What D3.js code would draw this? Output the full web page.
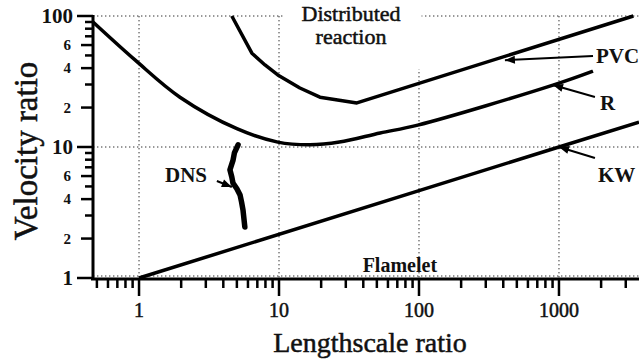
<!DOCTYPE html>
<html>
<head>
<meta charset="utf-8">
<script src="https://cdn.jsdelivr.net/npm/d3@7"></script>
<style>
  html, body { margin: 0; padding: 0; background: #fff; }
  svg { display: block; }
  text { font-family: "Liberation Serif", "Times New Roman", serif; fill: #111; }
  text.heavy { stroke: #111; stroke-width: 0.5; }
</style>
</head>
<body>
<svg id="chart" width="639" height="360"></svg>
<script>
// Log-log regime diagram: velocity ratio vs lengthscale ratio

// axis ticks
const xMajorTicks = [1, 10, 100, 1000];
const xTickLabels = ["1", "10", "100", "1000"];
const yMajorTicks = [1, 10, 100];
const yMajorLabels = ["1", "10", "100"];
const yLabeledMinor = [2, 4, 6, 20, 40, 60];
const yMinorLabels = ["2", "4", "6", "2", "4", "6"];

// boundary curves
const pvcX = [4.6, 6.4, 7.94, 9.8, 14.1, 19.6, 36, 3400];
const pvcY = [100, 52, 42.3, 35.5, 28.2, 24, 21.7, 100];

const rX = [0.469, 0.94, 1.96, 5.0, 9.8, 16.6, 27, 52.8, 98, 906, 1750];
const rY = [90, 46, 24, 13.8, 10.9, 10.4, 10.9, 12.8, 14.7, 29.7, 38];

const kwX = [1, 1000, 3730];
const kwY = [1, 10, 15.5];

const dnsX = [5.1, 4.8, 4.69, 4.46, 4.6, 4.69, 5.0, 5.27, 5.4, 5.53, 5.7];
const dnsY = [10.4, 9.0, 7.9, 6.7, 5.9, 5.3, 4.8, 4.3, 3.8, 3.3, 2.45];

// curve labels and their leader arrows (data coordinates)
const labelNames = ["PVC", "R", "KW", "DNS"];
const labelX = [1837, 1963, 1900, 3.06];
const labelY = [43.8, 19.2, 5.4, 5.4];
const labelAnchor = ["start", "start", "start", "end"];
const arrowFromX = [1750, 1807, 1807, 3.6];
const arrowFromY = [49.5, 24.1, 8.24, 5.5];
const arrowToX = [411, 906, 1000, 4.6];
const arrowToY = [46, 29.7, 10, 4.95];

const svg = d3.select("#chart");
const W = 639, H = 360;

const x = d3.scaleLog().domain([0.469, 3730]).range([93, 639]);
const y = d3.scaleLog().domain([1, 100]).range([278, 16]);

// dotted grid
const grid = svg.append("g").attr("stroke", "#333").attr("stroke-width", 1)
  .attr("stroke-dasharray", "1.4,2.6").attr("fill", "none");
xMajorTicks.forEach(v => {
  grid.append("line").attr("x1", x(v)).attr("x2", x(v)).attr("y1", y(100)).attr("y2", y(1));
});
[10, 100].forEach(v => {
  grid.append("line").attr("x1", x.range()[0]).attr("x2", W).attr("y1", y(v)).attr("y2", y(v));
});
grid.append("line").attr("x1", x.range()[0]).attr("x2", W).attr("y1", y(1) - 2).attr("y2", y(1) - 2);

// "Distributed reaction" label with a white backing
const distG = svg.append("g");
const distMask = distG.append("rect").attr("fill", "#fff");
const dist = distG.append("text").attr("class", "heavy").attr("text-anchor", "middle").attr("font-size", 22);
dist.append("tspan").attr("x", x(32.7)).attr("y", y(91)).text("Distributed");
dist.append("tspan").attr("x", x(32.7)).attr("y", y(61)).text("reaction");
const bb = dist.node().getBBox();
distMask.attr("x", bb.x - 17).attr("y", 0).attr("width", bb.width + 38).attr("height", bb.y + bb.height + 20);

// curves
const line = d3.line().x(d => x(d[0])).y(d => y(d[1]));
const smooth = d3.line().x(d => x(d[0])).y(d => y(d[1])).curve(d3.curveCatmullRom.alpha(0.5));
const zip = (a, b) => a.map((v, i) => [v, b[i]]);

svg.append("path").datum(zip(pvcX, pvcY)).attr("d", line)
  .attr("fill", "none").attr("stroke", "#000").attr("stroke-width", 3.5)
  .attr("stroke-linejoin", "round");
svg.append("path").datum(zip(rX, rY)).attr("d", smooth)
  .attr("fill", "none").attr("stroke", "#000").attr("stroke-width", 3.5);
svg.append("path").datum(zip(kwX, kwY)).attr("d", line)
  .attr("fill", "none").attr("stroke", "#000").attr("stroke-width", 3.5);
svg.append("path").datum(zip(dnsX, dnsY)).attr("d", line)
  .attr("fill", "none").attr("stroke", "#000").attr("stroke-width", 5.5)
  .attr("stroke-linecap", "round").attr("stroke-linejoin", "round");

// leader arrows and labels
labelNames.forEach((name, i) => {
  const x1 = x(arrowFromX[i]), y1 = y(arrowFromY[i]);
  const x2 = x(arrowToX[i]), y2 = y(arrowToY[i]);
  svg.append("line").attr("x1", x1).attr("y1", y1).attr("x2", x2).attr("y2", y2)
    .attr("stroke", "#000").attr("stroke-width", 2);
  const ang = Math.atan2(y2 - y1, x2 - x1);
  const L = 10, Wd = 4;
  const bx = x2 - L * Math.cos(ang), by = y2 - L * Math.sin(ang);
  const px = -Math.sin(ang) * Wd, py = Math.cos(ang) * Wd;
  svg.append("path")
    .attr("d", `M${x2},${y2}L${bx + px},${by + py}L${bx - px},${by - py}Z`)
    .attr("fill", "#000");
  svg.append("text").attr("x", x(labelX[i])).attr("y", y(labelY[i]))
    .attr("text-anchor", labelAnchor[i]).attr("font-size", 21).attr("font-weight", "bold")
    .text(name);
});

svg.append("text").attr("x", x(73)).attr("y", y(1.11)).attr("text-anchor", "middle")
  .attr("font-size", 20).attr("font-weight", "bold").text("Flamelet");

// axes
const axes = svg.append("g").attr("stroke", "#000");
axes.append("line").attr("x1", x.range()[0]).attr("x2", x.range()[0])
  .attr("y1", y(100) - 1).attr("y2", y(1) + 2).attr("stroke-width", 3);
axes.append("line").attr("x1", x.range()[0] - 2).attr("x2", W)
  .attr("y1", y(1) + 1).attr("y2", y(1) + 1).attr("stroke-width", 3);

// y ticks
const yAllTicks = y.ticks();
yAllTicks.forEach(v => {
  const major = yMajorTicks.includes(v);
  const lab = yLabeledMinor.some(m => Math.abs(m - v) < 1e-9);
  const len = major ? 16 : (lab ? 12 : 8);
  axes.append("line").attr("x1", x.range()[0]).attr("x2", x.range()[0] - len)
    .attr("y1", y(v)).attr("y2", y(v)).attr("stroke-width", 2.5);
});
yMajorTicks.forEach((v, i) => {
  svg.append("text").attr("x", 73).attr("y", y(v)).attr("dy", "0.34em")
    .attr("text-anchor", "end").attr("font-size", 21).attr("font-weight", "bold")
    .text(yMajorLabels[i]);
});
yLabeledMinor.forEach((v, i) => {
  svg.append("text").attr("x", 71).attr("y", y(v)).attr("dy", "0.34em")
    .attr("text-anchor", "end").attr("font-size", 15).attr("font-weight", "bold")
    .text(yMinorLabels[i]);
});

// x ticks
const xAllTicks = x.ticks();
xAllTicks.forEach(v => {
  if (x(v) > W) return;
  const major = xMajorTicks.some(m => Math.abs(m - v) < 1e-9);
  axes.append("line").attr("x1", x(v)).attr("x2", x(v))
    .attr("y1", y(1)).attr("y2", y(1) + (major ? 18 : 10)).attr("stroke-width", 2.5);
});
xMajorTicks.forEach((v, i) => {
  svg.append("text").attr("class", "heavy").attr("x", x(v)).attr("y", 317).attr("text-anchor", "middle")
    .attr("font-size", 20).text(xTickLabels[i]);
});

// axis titles
svg.append("text").attr("class", "heavy").attr("x", 370).attr("y", 352).attr("text-anchor", "middle")
  .attr("font-size", 28).text("Lengthscale ratio");
svg.append("text").attr("class", "heavy").attr("transform", "translate(37,151) rotate(-90)")
  .attr("text-anchor", "middle").attr("font-size", 33).text("Velocity ratio");
</script>
</body>
</html>
